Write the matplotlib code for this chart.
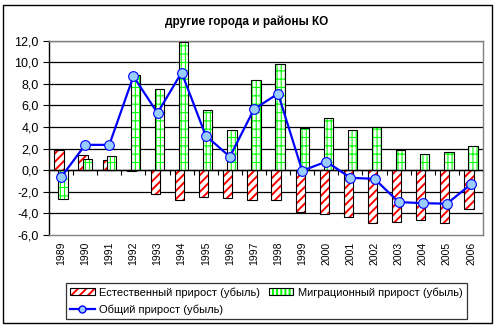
import numpy as np
import matplotlib.pyplot as plt
from matplotlib.lines import Line2D
from matplotlib.patches import Patch, Rectangle
from matplotlib.legend_handler import HandlerTuple

plt.rcParams['font.family'] = ['Liberation Sans', 'DejaVu Sans']
plt.rcParams['hatch.linewidth'] = 1.4

years = [str(y) for y in range(1989, 2007)]
natural = [1.9, 1.4, 0.95, -0.05, -2.2, -2.8, -2.5, -2.6, -2.75, -2.75,
           -3.9, -4.05, -4.35, -4.85, -4.8, -4.6, -4.85, -3.6]
migration = [-2.65, 1.0, 1.3, 8.8, 7.5, 11.85, 5.55, 3.7, 8.35, 9.85,
             3.9, 4.8, 3.7, 4.0, 1.85, 1.5, 1.7, 2.2]
total = [-0.65, 2.35, 2.35, 8.7, 5.3, 9.05, 3.2, 1.25, 5.65, 7.1,
         -0.05, 0.8, -0.7, -0.8, -2.95, -3.05, -3.1, -1.3]

yticks = np.arange(-6, 13, 2)
GRID_HATCH = '++||'


def thin_hatch(patch):
    if hasattr(patch, 'set_hatch_linewidth'):
        patch.set_hatch_linewidth(0.8)
    return patch


fig = plt.figure(figsize=(4.98, 3.28), dpi=100)
ax = fig.add_axes([0.0984, 0.2835, 0.8716, 0.5925])

x = np.arange(len(years))
w = 0.385
off = 0.085

# hatched fills first, black outlines on top
ax.bar(x - off, natural, w, color='white', edgecolor='#FF0000', hatch='////',
       linewidth=0, zorder=2)
ax.bar(x - off, natural, w, fill=False, edgecolor='black', linewidth=0.8, zorder=2.1)
mig_bars = ax.bar(x + off, migration, w, color='white', edgecolor='#00FF00',
                  hatch=GRID_HATCH, linewidth=0, zorder=3)
for b in mig_bars:
    thin_hatch(b)
ax.bar(x + off, migration, w, fill=False, edgecolor='black', linewidth=0.8, zorder=3.1)

ax.plot(x, total, color='#0000FF', linewidth=1.6, marker='o', markersize=7,
        markerfacecolor='#99CCFF', markeredgecolor='#0000FF', markeredgewidth=0.8,
        zorder=5)

ax.set_xlim(-0.5, len(years) - 0.5)
ax.set_ylim(-6, 12)
ax.set_yticks(yticks)
ax.set_yticklabels([f"{v:.1f}".replace('.', ',') for v in yticks], fontsize=9)
for v in yticks[1:]:
    ax.axhline(v, color='black', linewidth=0.9, zorder=1)

ax.set_xticks(x)
ax.set_xticklabels(years, rotation=90, fontsize=7.5)
ax.tick_params(axis='x', length=0, pad=5)
ax.tick_params(axis='y', length=4, width=0.8, direction='out')

for s in ['top', 'right', 'bottom']:
    ax.spines[s].set_color('#808080')
    ax.spines[s].set_linewidth(1.0)
ax.spines['left'].set_color('black')
ax.spines['left'].set_linewidth(1.0)

# category axis at zero with tick marks
ax.axhline(0, color='black', linewidth=1.0, zorder=4)
sec = ax.secondary_xaxis(1 / 3)
sec.set_xticks(np.arange(-0.5, len(years), 1))
sec.set_xticklabels([])
sec.tick_params(axis='x', length=3.5, width=0.8, direction='out')
sec.spines['bottom'].set_visible(False)

fig.text(0.496, 0.933, 'другие города и районы КО', ha='center', va='center',
         fontsize=8.5, fontweight='bold')

h_nat = (Patch(facecolor='white', edgecolor='#FF0000', hatch='////', linewidth=0),
         Patch(fill=False, edgecolor='black', linewidth=0.8))
h_mig = (thin_hatch(Patch(facecolor='white', edgecolor='#00FF00', hatch=GRID_HATCH,
                          linewidth=0)),
         Patch(fill=False, edgecolor='black', linewidth=0.8))
h_tot = Line2D([], [], color='#0000FF', linewidth=1.6, marker='o', markersize=5,
               markerfacecolor='#99CCFF', markeredgecolor='#0000FF')
# column-major fill: col 1 = natural, total; col 2 = migration
handles = [h_nat, h_tot, h_mig]
labels = ['Естественный прирост (убыль)', 'Общий прирост (убыль)',
          'Миграционный прирост (убыль)']
leg = fig.legend(handles, labels, ncol=2, loc='lower left',
                 bbox_to_anchor=(0.132, 0.027), fontsize=8, frameon=True,
                 fancybox=False, edgecolor='black', handlelength=2.2,
                 handleheight=0.5, handletextpad=0.4, columnspacing=0.8,
                 labelspacing=0.6, borderpad=0.4, borderaxespad=0,
                 handler_map={tuple: HandlerTuple(ndivide=1, pad=0)})
leg.get_frame().set_linewidth(0.9)

fig.patches.append(Rectangle((0.006, 0.015), 0.982, 0.97, transform=fig.transFigure,
                             fill=False, edgecolor='black', linewidth=1.0))

fig.savefig('out.png', dpi=100)
